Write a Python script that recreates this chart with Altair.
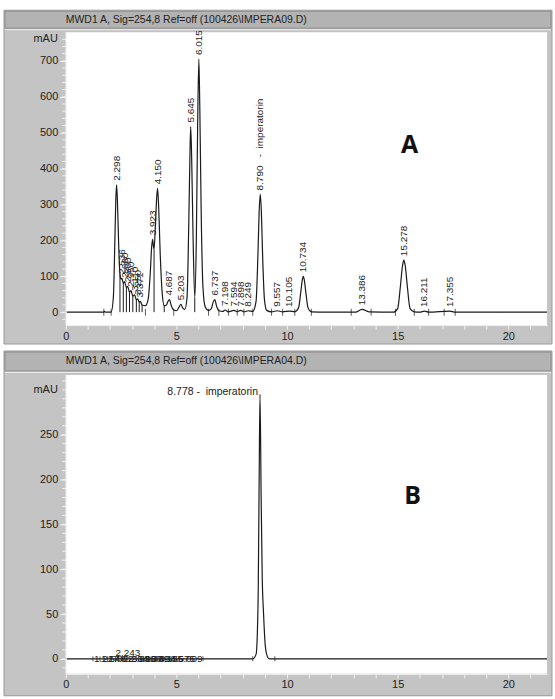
import altair as alt
import pandas as pd

FONT = "Liberation Sans"
PANEL_GRAY = "#c4c4c4"
BAR_GRAY = "#b3b3b3"
INK = "#222222"
TICK = "#f2f2f2"
NBSP = "\u00a0"

# ---------------- Panel A: sample run (IMPERA09) ----------------
a_title = "MWD1 A, Sig=254,8 Ref=off (100426\\IMPERA09.D)"

# detector trace: time (min) / signal (mAU)
a_time = [0.00, 1.70, 1.75, 1.80, 2.05, 2.15, 2.22, 2.26, 2.298, 2.34, 2.39, 2.45,
          2.50, 2.536, 2.60, 2.660, 2.74, 2.800, 2.88, 2.950, 3.03, 3.110, 3.19,
          3.250, 3.32, 3.371, 3.45, 3.60, 3.72, 3.82, 3.88, 3.923, 3.96, 3.99,
          4.05, 4.11, 4.150, 4.20, 4.27, 4.35, 4.45, 4.55, 4.62, 4.687, 4.76,
          4.88, 5.00, 5.12, 5.203, 5.28, 5.38, 5.48, 5.56, 5.61, 5.645, 5.69,
          5.75, 5.83, 5.90, 5.96, 6.015, 6.06, 6.12, 6.20, 6.30, 6.45, 6.58,
          6.66, 6.737, 6.81, 6.92, 7.10, 7.198, 7.35, 7.594, 7.75, 7.898, 8.05,
          8.249, 8.45, 8.60, 8.68, 8.74, 8.790, 8.84, 8.90, 8.98, 9.08, 9.30,
          9.557, 9.80, 10.105, 10.35, 10.52, 10.62, 10.69, 10.734, 10.78, 10.85,
          10.95, 11.10, 11.80, 13.10, 13.386, 13.70, 14.80, 15.00, 15.12, 15.22,
          15.278, 15.34, 15.44, 15.56, 15.75, 16.00, 16.211, 16.40, 17.355,
          17.60, 21.75]
a_mau = [0, 0, 2, 0, 0, 40, 200, 310, 355, 300, 190, 105,
         92, 95, 80, 85, 68, 72, 55, 60, 45, 48, 35,
         37, 28, 30, 20, 18, 35, 110, 180, 203, 185, 175,
         240, 320, 345, 290, 160, 60, 18, 20, 30, 35, 20,
         6, 4, 14, 22, 12, 8, 40, 250, 430, 517, 430,
         220, 40, 200, 520, 705, 560, 280, 70, 15, 5, 10,
         28, 35, 18, 4, 2, 6, 1, 5, 1, 5, 1,
         4, 2, 30, 150, 280, 328, 280, 150, 35, 5, 1,
         4, 1, 3, 1, 12, 55, 90, 100, 90, 55,
         12, 1, 0, 0, 8, 1, 0, 10, 70, 130,
         145, 130, 70, 10, 1, 0, 3, 0, 3,
         0, 0]

# integrated peaks: retention time, apex height, compound name
a_peak_rt = [2.298, 2.536, 2.660, 2.800, 2.950, 3.110, 3.250, 3.371, 3.923, 4.150,
             4.687, 5.203, 5.645, 6.015, 6.737, 7.198, 7.594, 7.898, 8.249, 8.790,
             9.557, 10.105, 10.734, 13.386, 15.278, 16.211, 17.355]
a_peak_mau = [355, 95, 85, 72, 60, 48, 37, 30, 203, 345,
              35, 22, 517, 705, 35, 6, 5, 5, 4, 328,
              4, 3, 100, 8, 145, 3, 3]
a_peak_name = ["", "", "", "", "", "", "", "", "", "",
               "", "", "", "", "", "", "", "", "", "imperatorin",
               "", "", "", "", "", "", ""]

# drop lines between co-eluting peaks
a_drop_rt = [2.45, 2.60, 2.74, 2.88, 3.03, 3.19, 3.32, 3.45, 3.99, 4.45, 5.83]
a_drop_mau = [105, 80, 68, 55, 45, 35, 28, 20, 175, 18, 40]

# integration start/stop marks on the baseline
a_mark_rt = [1.72, 2.05, 3.60, 4.88, 6.45, 6.92, 7.35, 7.75, 8.05, 8.45, 9.30,
             9.80, 10.35, 11.10, 12.90, 13.80, 14.90, 15.75, 16.40, 17.10, 17.60]

a_major = [0, 100, 200, 300, 400, 500, 600, 700]
a_minor = list(range(-20, 761, 20))

# ---------------- Panel B: standard run (IMPERA04) ----------------
b_title = "MWD1 A, Sig=254,8 Ref=off (100426\\IMPERA04.D)"

b_time = [0.00, 8.45, 8.60, 8.66, 8.70, 8.74, 8.778, 8.83, 8.88, 8.94, 9.00,
          9.08, 9.20, 21.75]
b_mau = [0, 0, 5, 30, 80, 200, 295, 180, 90, 50, 20, 5, 0, 0]

b_peak_rt = [8.778]
b_peak_mau = [295]
b_peak_name = ["imperatorin"]

# minor peaks labelled along the baseline
b_small_rt = [1.227, 1.548, 1.882, 2.564, 2.896, 3.187, 3.499, 3.808, 4.155, 4.675, 5.009]
b_small_up_rt = [2.243]

b_mark_rt = [1.227, 1.548, 1.882, 2.243, 2.564, 2.896, 3.187, 3.499, 3.808,
             4.155, 4.675, 5.009, 6.20, 8.45, 9.45]

b_major = [0, 50, 100, 150, 200, 250]
b_minor = list(range(-10, 311, 10))

X_TICKS = list(range(0, 22))
W = 483


def peak_text(rts, names, gap):
    sep = f"{NBSP * gap}-{NBSP * 2}"
    return [f"{r:.3f}{sep}{n}" if n else f"{r:.3f}" for r, n in zip(rts, names)]


def panel(title, letter, letter_xy, time, mau, y_dom, major, minor, plot_h,
          top_pad, bottom_pad, unit_y, layers_extra):
    xs = alt.Scale(domain=[0, 21.75], nice=False, zero=False)
    ys = alt.Scale(domain=y_dom, nice=False, zero=False)
    ax_x = alt.Axis(values=X_TICKS, tickSize=4, tickColor=TICK, domainColor=TICK,
                    labelFont=FONT, labelFontSize=11, labelColor=INK, labelPadding=1,
                    grid=False, labelOverlap=False, labelFlush=False, zindex=1,
                    title=None,
                    labelExpr="datum.value % 5 === 0 ? datum.label : ''")
    ax_y = alt.Axis(values=major, tickSize=6, tickColor=TICK, domainColor=TICK,
                    labelFont=FONT, labelFontSize=11, labelColor=INK, labelPadding=2,
                    grid=False, labelOverlap=False, labelFlush=False, zindex=1,
                    title=None)

    def X(field):
        return alt.X(field, scale=xs, axis=ax_x, title=None)

    def Y(field):
        return alt.Y(field, scale=ys, axis=ax_y, title=None)

    one = pd.DataFrame({"k": [0]})

    bg = alt.Chart(one).mark_rect(fill=PANEL_GRAY, stroke="#9a9a9a", strokeWidth=1,
                                  clip=False).encode(
        x=alt.value(-62), x2=alt.value(W + 5),
        y=alt.value(-top_pad), y2=alt.value(plot_h + bottom_pad))
    white = alt.Chart(one).mark_rect(fill="white", clip=False).encode(
        x=alt.value(0), x2=alt.value(W), y=alt.value(0), y2=alt.value(plot_h))
    bar = alt.Chart(one).mark_rect(fill=BAR_GRAY, stroke="#8c8c8c", strokeWidth=1,
                                   clip=False).encode(
        x=alt.value(-61), x2=alt.value(W + 4),
        y=alt.value(-top_pad + 1), y2=alt.value(-4))
    bar_line = alt.Chart(one).mark_rule(color="#ececec", strokeWidth=1, clip=False).encode(
        x=alt.value(-61), x2=alt.value(W + 4), y=alt.value(-2.5))
    bar_text = alt.Chart(pd.DataFrame({"t": [title]})).mark_text(
        align="left", baseline="middle", font=FONT, fontSize=10.5, color=INK,
        clip=False).encode(
        text="t:N", x=alt.value(0), y=alt.value(-(top_pad + 3) / 2))

    minor_ticks = alt.Chart(pd.DataFrame({"v": minor})).mark_rule(
        color=TICK, strokeWidth=1, clip=False).encode(
        y=Y("v:Q"), x=alt.value(-3.5), x2=alt.value(0))
    unit = alt.Chart(pd.DataFrame({"t": ["mAU"]})).mark_text(
        align="right", baseline="middle", font=FONT, fontSize=11, color=INK,
        clip=False).encode(
        text="t:N", x=alt.value(-8), y=alt.value(unit_y))

    trace = alt.Chart(pd.DataFrame({"time": time, "mau": mau})).mark_line(
        color="#1a1a1a", strokeWidth=1.2, interpolate="monotone").encode(
        x=X("time:Q"), y=Y("mau:Q"))

    big = alt.Chart(pd.DataFrame({"t": [letter]})).mark_text(
        font="Open Sans", fontWeight="bold", fontSize=25, color="#111",
        align="center", baseline="middle").encode(
        text="t:N", x=alt.value(letter_xy[0]), y=alt.value(letter_xy[1]))

    layers = [bg, white, bar, bar_line, bar_text, minor_ticks, unit, trace]
    layers += [lyr(X, Y) for lyr in layers_extra]
    layers.append(big)
    return alt.layer(*layers).properties(width=W, height=plot_h)


# ---- extra layers for panel A ----
def a_drops(X, Y):
    return alt.Chart(pd.DataFrame({"t": a_drop_rt, "h": a_drop_mau, "z": [0] * len(a_drop_rt)})
                     ).mark_rule(color="#1a1a1a", strokeWidth=1).encode(
        x=X("t:Q"), y=Y("z:Q"), y2="h:Q")


def a_marks(X, Y):
    return alt.Chart(pd.DataFrame({"t": a_mark_rt, "z": [0] * len(a_mark_rt)})
                     ).mark_tick(orient="vertical", size=7, thickness=1, color="#1a1a1a").encode(
        x=X("t:Q"), y=Y("z:Q"))


def a_labels(X, Y):
    return alt.Chart(pd.DataFrame({"t": a_peak_rt, "h": a_peak_mau,
                                   "lab": peak_text(a_peak_rt, a_peak_name, 3)})
                     ).mark_text(angle=270, align="left", baseline="middle", dx=4,
                                 font=FONT, fontSize=10, color=INK, clip=False).encode(
        x=X("t:Q"), y=Y("h:Q"), text="lab:N")


# ---- extra layers for panel B ----
def b_marks(X, Y):
    return alt.Chart(pd.DataFrame({"t": b_mark_rt, "z": [0] * len(b_mark_rt)})
                     ).mark_tick(orient="vertical", size=5, thickness=1, color="#1a1a1a").encode(
        x=X("t:Q"), y=Y("z:Q"))


def b_label(X, Y):
    return alt.Chart(pd.DataFrame({"t": b_peak_rt, "h": b_peak_mau,
                                   "lab": peak_text(b_peak_rt, b_peak_name, 1)})
                     ).mark_text(align="right", baseline="middle", dx=-2, dy=-2,
                                 font=FONT, fontSize=10.5, color=INK, clip=False).encode(
        x=X("t:Q"), y=Y("h:Q"), text="lab:N")


def b_small(X, Y):
    return alt.Chart(pd.DataFrame({"t": b_small_rt, "z": [0] * len(b_small_rt),
                                   "lab": [f"{r:.3f}" for r in b_small_rt]})
                     ).mark_text(align="left", baseline="middle", dx=1,
                                 font=FONT, fontSize=10, color=INK).encode(
        x=X("t:Q"), y=Y("z:Q"), text="lab:N")


def b_small_up(X, Y):
    return alt.Chart(pd.DataFrame({"t": b_small_up_rt, "z": [0] * len(b_small_up_rt),
                                   "lab": [f"{r:.3f}" for r in b_small_up_rt]})
                     ).mark_text(align="left", baseline="middle", dx=0, dy=-6,
                                 font=FONT, fontSize=10, color=INK).encode(
        x=X("t:Q"), y=Y("z:Q"), text="lab:N")


chart_a = panel(a_title, "A", (345, 113), a_time, a_mau, [-36, 780], a_major, a_minor,
                294, 22, 19, 7, [a_drops, a_marks, a_labels])
chart_b = panel(b_title, "B", (348, 122), b_time, b_mau, [-16.7, 316.7], b_major, b_minor,
                300, 24, 22, 15, [b_marks, b_label, b_small, b_small_up])

chart = alt.vconcat(chart_a, chart_b, spacing=5).properties(
    padding={"left": 3, "top": 8, "right": 2, "bottom": 5}
).configure(background="white").configure_view(stroke=None)

chart.save("out.html", embed_options={"renderer": "svg", "actions": False})
